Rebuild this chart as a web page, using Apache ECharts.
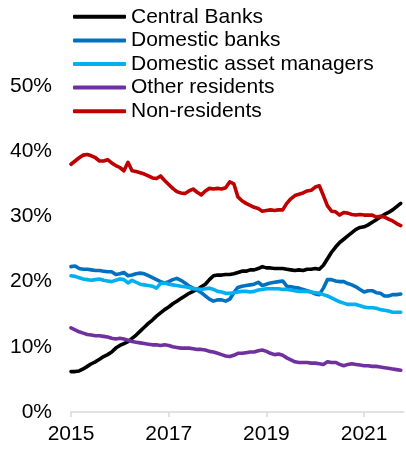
<!DOCTYPE html>
<html>
<head>
<meta charset="utf-8">
<script src="https://cdn.jsdelivr.net/npm/echarts@6/dist/echarts.min.js"></script>
<style>
  html, body { margin: 0; padding: 0; background: #fff; }
  #chart { width: 406px; height: 449px; }
</style>
</head>
<body>
<div id="chart"></div>
<script>
// Monthly holdings shares (%), January 2015 onward
const startYear = 2015;
const seriesNames = ['Central Banks', 'Domestic banks', 'Domestic asset managers', 'Other residents', 'Non-residents'];
const xTickYears = [2015, 2017, 2019, 2021];
const yTicks = [0, 10, 20, 30, 40, 50];

const centralBanks = [
  6.2, 6.2, 6.3, 6.6, 7.0, 7.4, 7.7, 8.1, 8.5, 8.8, 9.2, 9.8,
  10.2, 10.5, 10.8, 11.3, 11.8, 12.4, 13.0, 13.6, 14.1, 14.7, 15.2, 15.7,
  16.1, 16.6, 17.0, 17.4, 17.8, 18.2, 18.5, 18.8, 19.2, 19.6, 20.3, 20.9,
  21.0, 21.0, 21.1, 21.1, 21.2, 21.4, 21.6, 21.6, 21.8, 21.8, 22.0, 22.3,
  22.1, 22.1, 22.0, 22.0, 22.0, 21.9, 21.8, 21.7, 21.8, 21.7, 21.9, 21.9,
  22.0, 21.9, 22.5, 23.5, 24.5, 25.3, 26.0, 26.5, 27.0, 27.5, 28.0, 28.3,
  28.4, 28.7, 29.1, 29.5, 29.9, 30.3, 30.6, 31.0, 31.5, 32.0
];
const domesticBanks = [
  22.3, 22.4, 22.0, 21.9, 21.9, 21.8, 21.7, 21.7, 21.6, 21.5, 21.5, 21.1,
  21.2, 21.4, 20.9, 21.0, 21.2, 21.3, 21.2, 20.9, 20.6, 20.3, 20.0, 19.8,
  20.0, 20.3, 20.5, 20.2, 19.8, 19.3, 19.0, 18.7, 18.3, 17.8, 17.3, 17.0,
  17.2, 17.2, 17.0, 17.3, 18.3, 19.1, 19.3, 19.4, 19.5, 19.6, 19.9, 19.4,
  19.6, 19.8, 19.9, 20.0, 20.1, 19.3, 19.2, 19.1, 19.0, 18.8, 18.6, 18.4,
  18.1, 18.0, 19.0, 20.3, 20.3, 20.1, 20.0, 20.0, 19.7, 19.5, 19.2, 18.8,
  18.4, 18.6, 18.6, 18.3, 18.2, 17.8, 17.8, 18.0, 18.0, 18.1
];
const assetManagers = [
  20.9, 20.8, 20.6, 20.4, 20.3, 20.2, 20.3, 20.4, 20.2, 20.1, 20.0, 20.2,
  20.4, 20.3, 19.8, 20.2, 19.9, 19.6, 19.5, 19.4, 19.3, 19.0, 19.7, 19.8,
  19.6, 19.5, 19.4, 19.3, 19.2, 19.1, 18.9, 18.9, 18.8, 18.9, 19.0, 18.8,
  18.5, 18.4, 18.2, 18.2, 18.3, 18.4, 18.5, 18.5, 18.4, 18.5, 18.7, 18.8,
  18.9, 18.9, 18.9, 18.9, 18.8, 18.8, 18.7, 18.6, 18.5, 18.5, 18.5, 18.4,
  18.3, 18.2, 18.0, 17.8, 17.5, 17.2, 16.9, 16.7, 16.5, 16.5, 16.5, 16.3,
  16.1, 16.0, 16.0, 15.9, 15.7, 15.6, 15.5, 15.3, 15.3, 15.3
];
const otherResidents = [
  12.9, 12.6, 12.3, 12.1, 11.9, 11.8, 11.7, 11.7, 11.6, 11.5, 11.3, 11.2,
  11.3, 11.2, 11.0, 10.8, 10.7, 10.6, 10.5, 10.4, 10.3, 10.3, 10.2, 10.3,
  10.2, 10.0, 9.9, 9.8, 9.8, 9.8, 9.7, 9.6, 9.6, 9.5, 9.3, 9.2,
  9.0, 8.8, 8.6, 8.5, 8.7, 9.0, 9.0, 9.1, 9.2, 9.2, 9.4, 9.5,
  9.3, 9.0, 8.8, 8.9, 8.7, 8.3, 8.0, 7.7, 7.6, 7.6, 7.6, 7.5,
  7.5, 7.4, 7.3, 7.7, 7.6, 7.6, 7.3, 7.1, 7.3, 7.4, 7.3, 7.2,
  7.1, 7.1, 7.0, 7.0, 6.9, 6.8, 6.7, 6.6, 6.5, 6.4
];
const nonResidents = [
  38.0, 38.5, 39.0, 39.4, 39.5, 39.3, 39.0, 38.5, 38.5, 38.7, 38.2, 37.8,
  37.5, 37.0, 38.3, 37.0, 36.9, 36.7, 36.5, 36.2, 35.9, 35.8, 36.2, 35.5,
  34.9, 34.3, 33.8, 33.6, 33.5, 33.9, 34.2, 33.7, 33.3, 33.9, 34.3, 34.2,
  34.3, 34.2, 34.4, 35.3, 35.0, 33.0, 32.4, 32.0, 31.7, 31.4, 31.2, 30.8,
  30.9, 31.0, 30.9, 31.0, 31.0, 32.0, 32.7, 33.2, 33.4, 33.6, 33.9, 34.0,
  34.5, 34.7, 33.2, 31.6, 30.8, 30.7, 30.2, 30.6, 30.5, 30.3, 30.2, 30.3,
  30.2, 30.2, 30.2, 29.9, 30.0, 29.9, 29.6, 29.3, 28.9, 28.6
];

const colors = ['#000000', '#0070C0', '#00B0F0', '#7030A0', '#C00000'];
const allValues = [centralBanks, domesticBanks, assetManagers, otherResidents, nonResidents];

// pair each monthly value with its decimal-year position
function toPoints(values) {
  return values.map((v, i) => [startYear + i / 12, v]);
}

const FONT = '"Liberation Sans", Arial, sans-serif';
const chart = echarts.init(document.getElementById('chart'), null, { renderer: 'canvas' });

chart.setOption({
  animation: false,
  backgroundColor: '#ffffff',
  textStyle: { fontFamily: FONT },
  grid: { left: 71, right: 2, top: 86, bottom: 37, containLabel: false },
  legend: {
    orient: 'vertical',
    left: 73,
    top: 5,
    padding: 0,
    itemWidth: 53,
    itemHeight: 4,
    itemGap: 0,
    icon: 'roundRect',
    textStyle: { fontFamily: FONT, fontSize: 21, color: '#000', lineHeight: 23.6 },
    data: seriesNames
  },
  xAxis: {
    type: 'value',
    min: 2015,
    max: 2015 + 81.8 / 12,
    interval: 2,
    axisLine: { show: true, lineStyle: { color: '#d9d9d9', width: 1.5 } },
    axisTick: { show: true, length: 5, customValues: xTickYears, lineStyle: { color: '#d9d9d9', width: 1.5 } },
    axisLabel: {
      customValues: xTickYears,
      fontFamily: FONT, fontSize: 21, color: '#000', margin: 12,
      formatter: v => String(Math.round(v))
    },
    splitLine: { show: false }
  },
  yAxis: {
    type: 'value',
    min: yTicks[0],
    max: yTicks[yTicks.length - 1],
    interval: 10,
    axisLine: { show: false },
    axisTick: { show: false },
    splitLine: { show: false },
    axisLabel: { fontFamily: FONT, fontSize: 21, color: '#000', margin: 19, formatter: '{value}%' }
  },
  series: seriesNames.map((name, k) => ({
    name,
    type: 'line',
    data: toPoints(allValues[k]),
    showSymbol: false,
    symbol: 'none',
    color: colors[k],
    lineStyle: { width: 3.6, color: colors[k], join: 'round', cap: 'round' },
    emphasis: { disabled: true }
  }))
});
</script>
</body>
</html>
